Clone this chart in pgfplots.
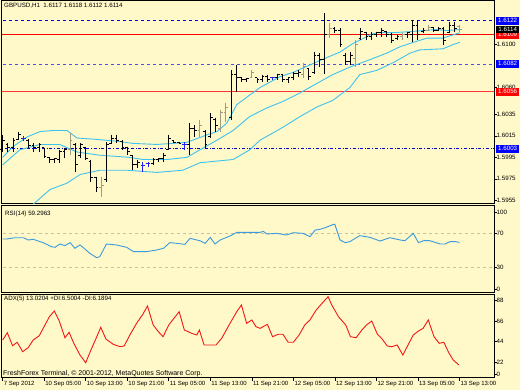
\documentclass[border=0pt]{standalone}
\usepackage{pgfplots}
\pgfplotsset{compat=1.18}
\usepackage{pgfplotstable}
\usepackage{fontspec}
\setmainfont{Liberation Sans}
\definecolor{bg}{HTML}{FFF8C8}
\definecolor{band}{HTML}{3EC3F0}
\definecolor{rsic}{HTML}{3A9BE0}
\definecolor{adxc}{HTML}{F01818}
\definecolor{greybar}{HTML}{A09C80}
\definecolor{dojib}{HTML}{2020F0}
\definecolor{lvl}{HTML}{C8C0A0}
\pgfdeclareplotmark{otick}{\pgfpathmoveto{\pgfqpoint{-2.3pt}{0pt}}\pgfpathlineto{\pgfqpoint{0pt}{0pt}}\pgfusepathqstroke}
\pgfdeclareplotmark{ctick}{\pgfpathmoveto{\pgfqpoint{0pt}{0pt}}\pgfpathlineto{\pgfqpoint{2.3pt}{0pt}}\pgfusepathqstroke}

\pgfplotstableread{
i o h l c
0 1.6002 1.6016 1.6000 1.6011
1 1.6007 1.6008 1.6000 1.6004
2 1.6004 1.6013 1.6000 1.6011
3 1.6012 1.6019 1.6011 1.6016
5 1.6011 1.6012 1.6004 1.6006
6 1.6006 1.6008 1.6000 1.6004
7 1.6004 1.6008 1.6000 1.6007
8 1.6004 1.6004 1.5994 1.5996
9 1.5995 1.5995 1.5990 1.5993
10 1.5993 1.5994 1.5990 1.5994
11 1.5993 1.6002 1.5990 1.6000
12 1.6000 1.6004 1.5994 1.6002
14 1.6007 1.6008 1.5981 1.5988
15 1.5997 1.6008 1.5994 1.6007
16 1.6004 1.6005 1.5993 1.5994
17 1.5991 1.5993 1.5972 1.5976
18 1.5976 1.5977 1.5963 1.5967
20 1.5974 1.6009 1.5972 1.6007
21 1.6008 1.6016 1.6007 1.6013
22 1.6013 1.6016 1.6008 1.6011
23 1.6010 1.6011 1.6002 1.6004
24 1.6004 1.6005 1.5997 1.6000
25 1.5997 1.5997 1.5983 1.5988
26 1.5988 1.5993 1.5985 1.5990
29 1.5989 1.5994 1.5988 1.5993
30 1.5993 1.5994 1.5991 1.5994
31 1.5994 1.5999 1.5991 1.5997
32 1.6002 1.6016 1.6002 1.6013
33 1.6011 1.6011 1.6008 1.6009
34 1.6009 1.6009 1.6008 1.6008
36 1.6007 1.6027 1.5997 1.6022
37 1.6022 1.6025 1.6014 1.6020
39 1.6019 1.6020 1.6004 1.6007
40 1.6014 1.6036 1.6013 1.6032
41 1.6030 1.6032 1.6019 1.6025
44 1.6032 1.6076 1.6030 1.6072
45 1.6072 1.6081 1.6056 1.6069
46 1.6069 1.6070 1.6065 1.6067
47 1.6067 1.6069 1.6065 1.6068
49 1.6069 1.6069 1.6064 1.6067
50 1.6067 1.6072 1.6065 1.6070
51 1.6070 1.6072 1.6065 1.6067
53 1.6069 1.6073 1.6067 1.6072
54 1.6072 1.6072 1.6065 1.6067
55 1.6067 1.6070 1.6064 1.6069
56 1.6069 1.6074 1.6067 1.6073
57 1.6073 1.6076 1.6070 1.6074
59 1.6078 1.6078 1.6067 1.6070
60 1.6074 1.6093 1.6073 1.6090
61 1.6090 1.6092 1.6079 1.6086
62 1.6086 1.6129 1.6073 1.6109
64 1.6115 1.6116 1.6111 1.6113
65 1.6113 1.6115 1.6098 1.6100
66 1.6090 1.6092 1.6081 1.6084
67 1.6084 1.6093 1.6081 1.6090
69 1.6106 1.6115 1.6104 1.6112
70 1.6111 1.6112 1.6104 1.6107
71 1.6107 1.6112 1.6104 1.6109
72 1.6109 1.6112 1.6107 1.6111
73 1.6111 1.6115 1.6107 1.6113
74 1.6112 1.6112 1.6107 1.6109
75 1.6109 1.6111 1.6101 1.6104
76 1.6106 1.6109 1.6104 1.6107
78 1.6109 1.6112 1.6106 1.6111
79 1.6109 1.6123 1.6102 1.6118
80 1.6118 1.6123 1.6104 1.6109
81 1.6112 1.6115 1.6111 1.6113
83 1.6116 1.6116 1.6112 1.6113
84 1.6113 1.6116 1.6113 1.6115
85 1.6115 1.6116 1.6100 1.6104
86 1.6111 1.6121 1.6111 1.6118
87 1.6118 1.6121 1.6112 1.6115
}\blackbars

\pgfplotstableread{
i o h l c
13 1.6002 1.6018 1.5997 1.6011
19 1.5967 1.5977 1.5958 1.5969
38 1.6020 1.6030 1.6014 1.6025
42 1.6022 1.6039 1.6019 1.6037
43 1.6037 1.6046 1.6028 1.6041
48 1.6069 1.6076 1.6069 1.6074
58 1.6072 1.6083 1.6069 1.6080
63 1.6109 1.6120 1.6106 1.6115
68 1.6087 1.6104 1.6079 1.6100
77 1.6107 1.6111 1.6104 1.6109
82 1.6113 1.6118 1.6113 1.6116
88 1.6117 1.6118 1.6112 1.6114
}\greybars

\pgfplotstableread{
i o h l c
4 1.6013 1.6015 1.6010 1.6013
27 1.5987 1.5991 1.5981 1.5987
28 1.5989 1.5991 1.5986 1.5989
35 1.6007 1.6009 1.6002 1.6007
52 1.6069 1.6070 1.6067 1.6069
}\bluebars

% high-low line, open tick, close tick (price axis is in pips above 1.6000 via y filter)
\newcommand{\ohlc}[2]{%
\addplot[only marks, mark=*, mark size=0pt, mark options={draw=none, fill=none}, forget plot, error bars/.cd, y dir=minus, y explicit, error mark=none, error bar style={draw=#2, line width=1pt, solid}] table[x=i, y=h, y error minus expr=(\thisrow{h}-\thisrow{l})*10000] {#1};
\addplot[only marks, mark=otick, mark options={draw=#2, line width=1pt, solid}, forget plot] table[x=i, y=o] {#1};
\addplot[only marks, mark=ctick, mark options={draw=#2, line width=1pt, solid}, forget plot] table[x=i, y=c] {#1};
}

\begin{document}
\begin{tikzpicture}
\fill[bg] (0pt,0pt) rectangle (520pt,390pt);
\pgfplotsset{mt/.style={scale only axis, width=492pt, xmin=-0.13, xmax=94.66,
  axis line style={black, line width=1pt}, ytick pos=right,
  tick align=outside, major tick length=3pt, tick style={black, line width=0.6pt},
  yticklabel style={font=\fontsize{6.2}{7}\selectfont, anchor=west, xshift=-1.5pt, inner sep=1pt},
  clip mode=individual}}

% ---------------- price panel ----------------
\begin{axis}[mt, xtick=\empty, at={(2pt,186pt)}, anchor=south west, height=203pt,
  y filter/.expression={(y-1.6)*10000},
  ymin=-48.4, ymax=140.5,
  ytick={-45,-25,-5,15,35,60,100},
  yticklabels={1.5955,1.5975,1.5995,1.6015,1.6035,1.6060,1.6100}]
\addplot[blue, dashed, line width=0.9pt] coordinates {(-1,1.6122) (96,1.6122)};
\addplot[red, line width=0.9pt] coordinates {(-1,1.6109) (96,1.6109)};
\addplot[blue!70!white, dashed, line width=0.7pt] coordinates {(-1,1.6082) (96,1.6082)};
\addplot[red!80!white, line width=0.8pt] coordinates {(-1,1.6056) (96,1.6056)};
\addplot[blue!80!black, dash dot, line width=1pt] coordinates {(-1,1.6003) (96,1.6003)};
% Bollinger bands
\addplot[band, line width=0.9pt] coordinates {(0,1.5995)(2,1.6005)(4.7,1.6014)(7.2,1.6019)(9.7,1.6020)(12.4,1.6020)(14.3,1.6013)(17.4,1.6012)(22,1.6010)(25.1,1.6008)(29.7,1.6007)(32.8,1.6008)(35.5,1.6009)(39.4,1.6016)(41.3,1.6019)(43.2,1.6027)(45.1,1.6044)(47.6,1.6053)(49.6,1.6060)(53.4,1.6070)(55.9,1.6074)(59.2,1.6081)(62.5,1.6088)(65,1.6093)(67.5,1.6101)(68.8,1.6104)(70.8,1.6109)(72.1,1.6111)(75.2,1.6111)(78.5,1.6112)(81,1.6113)(83.7,1.6114)(85.6,1.6113)(88.1,1.6114)};
\addplot[band, line width=0.9pt] coordinates {(0,1.5988)(3.3,1.6002)(7.2,1.6007)(11,1.6007)(14.3,1.6000)(18.7,1.5997)(24.5,1.5995)(27,1.5993)(31.7,1.5993)(35.5,1.5995)(38,1.6002)(41.3,1.6011)(44.4,1.6020)(47.6,1.6033)(50.9,1.6041)(54,1.6047)(57.3,1.6055)(60.6,1.6064)(63.6,1.6072)(66.9,1.6079)(70.8,1.6086)(74,1.6092)(76.6,1.6098)(79.1,1.6102)(81.8,1.6106)(84.8,1.6106)(86.8,1.6109)(88.1,1.6111)};
\addplot[band, line width=0.9pt] coordinates {(0,1.5941)(5.8,1.5951)(9.1,1.5965)(12.4,1.5971)(14.9,1.5979)(18.7,1.5983)(24,1.5983)(29.7,1.5981)(34.7,1.5983)(38,1.5990)(44.4,1.5993)(47.6,1.6002)(49.6,1.6011)(54,1.6023)(57.3,1.6033)(60.6,1.6042)(63.6,1.6048)(66.9,1.6060)(68.8,1.6072)(72.1,1.6076)(75.2,1.6083)(78.5,1.6092)(80.4,1.6095)(84.8,1.6096)(86.8,1.6100)(88.1,1.6102)};
% bars
\ohlc{\blackbars}{black}
\ohlc{\greybars}{greybar}
\ohlc{\bluebars}{dojib}
\end{axis}

% ---------------- RSI panel ----------------
\begin{axis}[mt, xtick=\empty, at={(2pt,97pt)}, anchor=south west, height=87pt,
  ymin=-0.2, ymax=102.1, ytick={4.5,30,70,94.2}, yticklabels={0,30,70,100}]
\addplot[lvl, dashed, line width=0.6pt] coordinates {(-1,70) (96,70)};
\addplot[lvl, dashed, line width=0.6pt] coordinates {(-1,30) (96,30)};
\addplot[rsic, line width=0.9pt] coordinates {(0,63.3)(0.76,63.3)(2.4,64.8)(4,64.8)(4.9,62.1)(5.9,62.9)(7.8,59)(9.4,54.3)(10.1,53.5)(11,57.4)(12,55.5)(13,59)(13.9,52.4)(14.9,56.3)(15.9,51.2)(16.8,46.4)(18.1,41.3)(18.7,42.5)(20,57.4)(21.9,56.3)(23.9,53.5)(25.2,48.4)(26.5,48.4)(27.7,48.4)(29.7,50.4)(31,52.4)(32.2,59)(33.5,58.2)(35.1,57)(36.1,64.1)(37.4,62.1)(38,61.3)(39,58.2)(40,65.2)(40.9,57.4)(41.9,62.1)(43.8,66.8)(45.1,71.1)(46.4,71.1)(49.6,71.1)(50.2,72.3)(50.9,69.2)(52.8,69.9)(54.7,68)(56,70.7)(57.9,69.9)(59.2,66)(60.2,73.8)(61.1,74.6)(62.1,76.5)(63.7,80.4)(64,80.4)(65,62.1)(66,59)(66.9,60.2)(68.8,67.2)(70.8,65.2)(72.7,60.9)(74.6,64.8)(76.6,62.1)(77.5,61.3)(79.1,69.9)(80.1,59)(81.1,61.3)(82.3,61.3)(84.3,57.4)(85.2,57.4)(86.2,60.2)(87.2,60.2)(88,59.3)};
\end{axis}

% ---------------- ADX panel ----------------
\begin{axis}[mt, at={(2pt,12pt)}, anchor=south west, height=83.5pt,
  ymin=4.8, ymax=94.6, ytick={9.1,22,44,66,88}, yticklabels={0,22,44,66,88},
  xtick={0,8,16,24,32,40,48,56,64,72,80,88}, xtick pos=left,
  xticklabels={7 Sep 2012,10 Sep 05:00,10 Sep 13:00,10 Sep 21:00,11 Sep 05:00,11 Sep 13:00,11 Sep 21:00,12 Sep 05:00,12 Sep 13:00,12 Sep 21:00,13 Sep 05:00,13 Sep 13:00},
  xticklabel style={font=\fontsize{6}{7}\selectfont, anchor=west, yshift=-3pt, inner sep=0.5pt, xshift=0.5pt}]
\addplot[adxc, line width=0.9pt] coordinates {(0,45.7)(0.9,53.5)(1.9,39.5)(2.8,43.2)(3.85,33.1)(4.9,37.4)(5.9,45.7)(7.05,50.3)(9,70.7)(9.95,76.8)(10.9,66.1)(12,48.1)(12.8,53.9)(13.7,42.1)(14.9,29.5)(16,21.2)(17,34.9)(18,47.5)(18.9,59.3)(19.9,46.7)(21.3,41)(22.6,38.5)(23.4,39.2)(24.5,51)(25.8,63.6)(27,73.3)(27.9,82.2)(29,61.8)(30,54.6)(30.9,49.2)(32,61.8)(33,69)(34,76.1)(35,56.4)(36.4,52.9)(37.4,51)(37.9,56.4)(38.8,40.3)(40,40.3)(41.1,40.3)(42.2,47.5)(43.8,63.6)(45.1,76.1)(46,83.3)(47,63.6)(48,67.2)(48.8,60)(49.6,58.2)(51,62.5)(52,49.2)(53.1,51.8)(54,51.8)(55,43.2)(56,43.2)(57.1,51)(58.2,61.8)(59.2,67.2)(60.4,77.9)(61.8,86.8)(62.7,92.2)(63.4,83.3)(64.7,70.7)(66.1,61.8)(67,49.2)(68.1,48.1)(69.2,56.4)(70.1,61.8)(71.1,66.1)(72.2,51.8)(73,47.5)(74.1,39.2)(75,38.5)(76,40.3)(77.1,29.5)(78.1,40.3)(79.1,51)(80.1,55.3)(81,58.2)(82,67.2)(83.1,49.2)(84.1,42.1)(85,43.2)(86,31.4)(86.8,24.2)(87.9,18.8)};
\end{axis}

% price level labels at the right edge
\tikzset{plab/.style={anchor=west, font=\fontsize{6.2}{7}\selectfont, text=white, inner xsep=1.5pt, inner ysep=0.6pt, minimum width=23pt, minimum height=7.5pt}}
\node[plab, fill=red] at (496pt,355.2pt) {1.6109};
\node[plab, fill=black] at (496pt,360.6pt) {1.6114};
\node[plab, fill=blue] at (496pt,369.2pt) {1.6122};
\node[plab, fill=blue] at (496pt,326.2pt) {1.6082};
\node[plab, fill=red] at (496pt,298.2pt) {1.6056};
\node[plab, fill=blue] at (496pt,241.2pt) {1.6003};

% texts
\node[anchor=west, inner sep=0, font=\fontsize{6.2}{7}\selectfont] at (4pt,384pt) {GBPUSD,H1\ \ 1.6117 1.6118 1.6112 1.6114};
\node[anchor=west, inner sep=0, font=\fontsize{6.2}{7}\selectfont] at (5pt,176pt) {RSI(14) 59.2963};
\node[anchor=west, inner sep=0, font=\fontsize{6.2}{7}\selectfont] at (4pt,91pt) {ADX(5) 13.0204 +DI:6.5004 -DI:6.1894};
\node[anchor=west, inner sep=0, font=\fontsize{7}{8}\selectfont] at (3pt,16pt) {FreshForex Terminal, © 2001-2012, MetaQuotes Software Corp.};

\pgfresetboundingbox
\path[use as bounding box] (0pt,0pt) rectangle (520pt,390pt);
\end{tikzpicture}
\end{document}
